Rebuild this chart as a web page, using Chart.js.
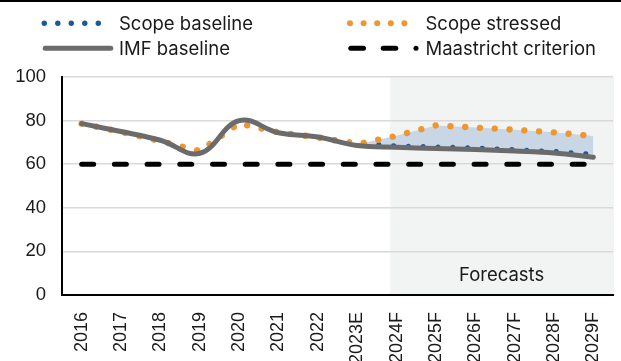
<!DOCTYPE html>
<html><head><meta charset="utf-8">
<script src="https://cdn.jsdelivr.net/npm/chart.js@4/dist/chart.umd.min.js"></script>
<style>
html,body{margin:0;padding:0;background:#fff;}
#wrap{position:relative;width:621px;height:361px;overflow:hidden;background:#fff;}
#topline{position:absolute;left:0;top:0;width:621px;height:2px;background:#000;}
canvas{position:absolute;left:0;top:0;}
.lg{position:absolute;font-family:Inter,"Liberation Sans",Arial,sans-serif;font-size:18.5px;color:#1a1a1a;line-height:22px;white-space:nowrap;}
svg.leg{position:absolute;left:0;top:0;}
</style></head>
<body><div id="wrap">
<canvas id="c" width="621" height="361"></canvas>
<div id="topline"></div>
<svg class="leg" width="621" height="70">
  <g fill="#1b5a96"><circle cx="44.3" cy="23.3" r="2.7"/><circle cx="57.8" cy="23.3" r="2.7"/><circle cx="71.3" cy="23.3" r="2.7"/><circle cx="84.8" cy="23.3" r="2.7"/><circle cx="98.3" cy="23.3" r="2.7"/></g>
  <g fill="#f0962f"><circle cx="350" cy="23.3" r="3"/><circle cx="363.6" cy="23.3" r="3"/><circle cx="377.2" cy="23.3" r="3"/><circle cx="390.8" cy="23.3" r="3"/><circle cx="404.4" cy="23.3" r="3"/></g>
  <line x1="45.2" y1="48.3" x2="110.8" y2="48.3" stroke="#6b6b6b" stroke-width="5" stroke-linecap="round"/>
  <line x1="350.8" y1="48.3" x2="363.5" y2="48.3" stroke="#000" stroke-width="5" stroke-linecap="round"/>
  <line x1="383.2" y1="48.3" x2="395.8" y2="48.3" stroke="#000" stroke-width="5" stroke-linecap="round"/>
  <circle cx="416" cy="48.3" r="2.5" fill="#000"/>
</svg>
<div class="lg" style="left:119px;top:12px">Scope baseline</div>
<div class="lg" style="left:425.5px;top:12px">Scope stressed</div>
<div class="lg" style="left:119px;top:37px">IMF baseline</div>
<div class="lg" style="left:425.5px;top:37px">Maastricht criterion</div>
</div>
<script>
const categories = ['2016','2017','2018','2019','2020','2021','2022','2023E','2024F','2025F','2026F','2027F','2028F','2029F'];
const scopeBaseline = [78.6,74.8,70.6,66.0,78.7,74.6,72.4,69.6,68.3,67.9,67.4,66.6,65.8,64.5];
const scopeStressed = [78.6,74.8,70.6,66.0,78.7,74.6,72.3,69.2,73.0,77.8,76.8,75.8,74.6,72.9];
const imfBaseline   = [78.6,75.0,71.0,65.0,80.0,74.4,72.5,68.6,67.8,67.2,66.7,66.0,65.1,63.2];
const maastricht    = [60,60,60,60,60,60,60,60,60,60,60,60,60,60];
const yMin = 0, yMax = 100, yStep = 20;
const forecastStart = '2024F';
const forecastLabel = 'Forecasts';

function shadeLeft(x) {
  const i = categories.indexOf(forecastStart);
  const w = x.getPixelForTick(1) - x.getPixelForTick(0);
  return x.getPixelForTick(i) - 0.16 * w;
}
const shadePlugin = {
  id: 'shade',
  beforeDraw(chart) {
    const {ctx, chartArea: a, scales: {x}} = chart;
    const left = shadeLeft(x);
    ctx.save();
    ctx.fillStyle = '#f2f4f3';
    ctx.fillRect(left, a.top, a.right + 1 - left, a.bottom - a.top);
    ctx.restore();
  },
  afterDraw(chart) {
    const {ctx, chartArea: a, scales: {x}} = chart;
    const left = shadeLeft(x);
    ctx.save();
    ctx.fillStyle = '#1a1a1a';
    ctx.font = '18.5px Inter, "Liberation Sans", Arial, sans-serif';
    ctx.textAlign = 'center';
    ctx.textBaseline = 'middle';
    ctx.fillText(forecastLabel, (left + a.right) / 2, a.bottom - 20);
    ctx.restore();
  }
};

const tickFont = '"Liberation Sans", Arial, sans-serif';
new Chart(document.getElementById('c'), {
  type: 'line',
  data: {
    labels: categories,
    datasets: [
      {label: 'Scope baseline', data: scopeBaseline, borderColor: '#1b5a96', borderWidth: 5.2,
       borderDash: [0.001, 14.8], borderCapStyle: 'round', pointRadius: 0, tension: 0, order: 2, fill: false},
      {label: 'Scope stressed', data: scopeStressed, borderColor: '#f0962f', borderWidth: 6.4,
       borderDash: [0.001, 14.8], borderCapStyle: 'round', pointRadius: 0, tension: 0, order: 1,
       fill: {target: 0}, backgroundColor: '#c8d6e5'},
      {label: 'IMF baseline', data: imfBaseline, borderColor: '#6b6b6b', borderWidth: 5,
       borderCapStyle: 'round', pointRadius: 0, tension: 0.4, order: 0, fill: false},
      {label: 'Maastricht criterion', data: maastricht, borderColor: '#000', borderWidth: 5,
       borderDash: [12, 20.7], borderCapStyle: 'round', pointRadius: 0, order: 3, fill: false}
    ]
  },
  options: {
    responsive: false, animation: false, devicePixelRatio: 1,
    layout: {padding: {top: 77, right: 8, left: 0, bottom: 0}},
    plugins: {legend: {display: false}, tooltip: {enabled: false}, filler: {drawTime: 'beforeDatasetsDraw'}},
    scales: {
      x: {
        type: 'category', offset: true,
        grid: {display: false, drawTicks: false},
        border: {display: true, color: '#000', width: 2},
        ticks: {maxRotation: 90, minRotation: 90, autoSkip: false, padding: 17, color: '#1a1a1a',
                font: {family: tickFont, size: 18}},
        afterFit(s) { s.height = 66; s.paddingLeft = 0; s.paddingRight = 0; }
      },
      y: {
        min: yMin, max: yMax,
        ticks: {stepSize: yStep, padding: 16, color: '#1a1a1a', font: {family: tickFont, size: 18.5}},
        grid: {color: '#d9d9d9', lineWidth: 1.5, drawTicks: false},
        border: {display: true, color: '#000', width: 2},
        afterFit(s) { s.width = 62; s.paddingTop = 0; s.paddingBottom = 0; }
      }
    }
  },
  plugins: [shadePlugin]
});
</script>
</body></html>
